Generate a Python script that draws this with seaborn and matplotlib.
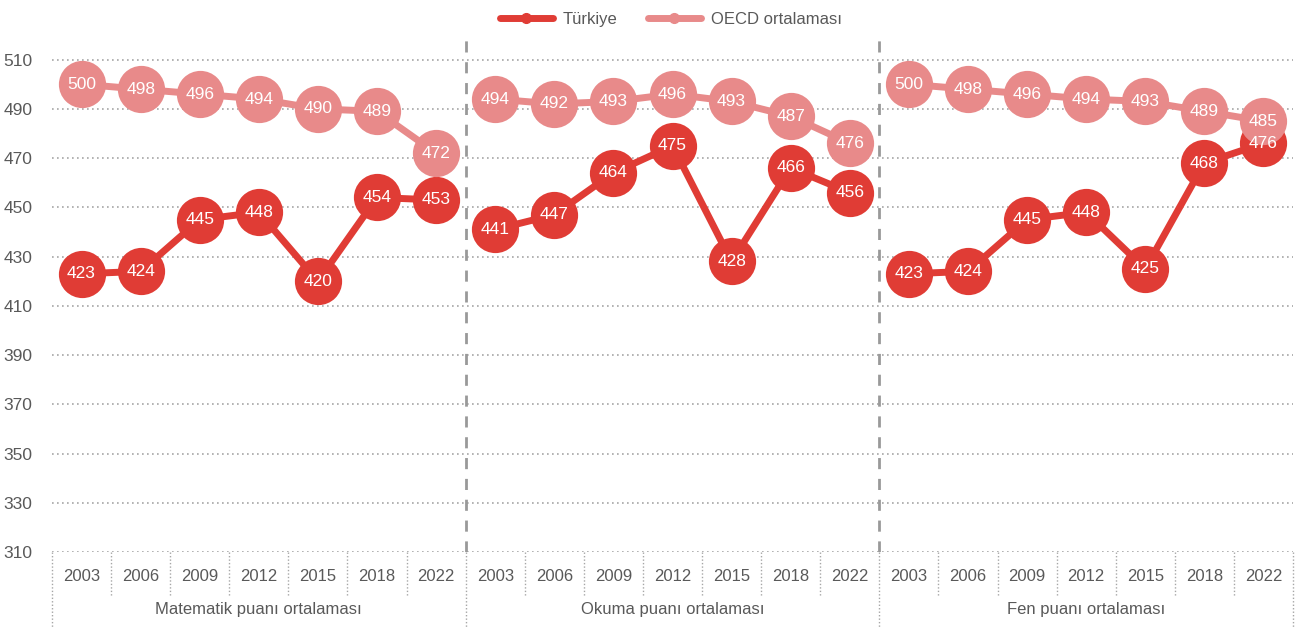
import matplotlib
matplotlib.use("Agg")
import matplotlib.pyplot as plt
from matplotlib.lines import Line2D
import pandas as pd
import seaborn as sns

subjects = ["Matematik puanı ortalaması", "Okuma puanı ortalaması", "Fen puanı ortalaması"]
years = ["2003", "2006", "2009", "2012", "2015", "2018", "2022"]
series_names = ["Türkiye", "OECD ortalaması"]

turkiye_math = [423, 424, 445, 448, 420, 454, 453]
oecd_math = [500, 498, 496, 494, 490, 489, 472]
turkiye_read = [441, 447, 464, 475, 428, 466, 456]
oecd_read = [494, 492, 493, 496, 493, 487, 476]
turkiye_sci = [423, 424, 445, 448, 425, 468, 476]
oecd_sci = [500, 498, 496, 494, 493, 489, 485]

y_ticks = [310, 330, 350, 370, 390, 410, 430, 450, 470, 490, 510]

colors = {"Türkiye": "#E03C35", "OECD ortalaması": "#E88A8A"}
text_gray = "#595959"
grid_gray = "#A6A6A6"

rows = []
for g, (subj, tr, oe) in enumerate(zip(subjects, [turkiye_math, turkiye_read, turkiye_sci], [oecd_math, oecd_read, oecd_sci])):
    for i, yr in enumerate(years):
        pos = g * len(years) + i
        rows.append({"subject": subj, "year": yr, "pos": pos, "series": "Türkiye", "score": tr[i]})
        rows.append({"subject": subj, "year": yr, "pos": pos, "series": "OECD ortalaması", "score": oe[i]})
df = pd.DataFrame(rows)

sns.set_style("white")
plt.rcParams["font.family"] = ["Liberation Sans", "DejaVu Sans"]

fig = plt.figure(figsize=(12.95, 6.27), dpi=100)
ax = fig.add_axes([52 / 1295, 75 / 627, 1241 / 1295, 517 / 627])

n = len(years)
for g, subj in enumerate(subjects):
    part = df[df["subject"] == subj]
    for k, name in enumerate(series_names):
        s = part[part["series"] == name]
        sns.lineplot(data=s, x="pos", y="score", color=colors[name], linewidth=5,
                     marker="o", markersize=34, markeredgewidth=0, legend=False,
                     ax=ax, zorder=3 + k)
        for _, r in s.iterrows():
            ax.text(r["pos"], r["score"], str(r["score"]), ha="center", va="center",
                    color="white", fontsize=12.5, zorder=10)

total = n * len(subjects)
ax.set_xlim(-0.5, total - 0.5)
ax.set_ylim(310, 520)
ax.set_yticks(y_ticks)
ax.set_yticklabels([str(t) for t in y_ticks], color=text_gray, fontsize=12.5)
ax.tick_params(axis="y", length=0, pad=14)
ax.set_xticks([])
ax.set_xlabel("")
ax.set_ylabel("")
for sp in ax.spines.values():
    sp.set_visible(False)
for t in y_ticks:
    ax.axhline(t, color=grid_gray, linewidth=1.2, linestyle=(0, (1, 2)), zorder=1)

# group separators
for g in range(1, len(subjects)):
    ax.axvline(g * n - 0.5, color="#999999", linewidth=2, linestyle=(0, (4, 3.5)), zorder=2)

# category axis below
xt = ax.get_xaxis_transform()
for p in range(total):
    ax.text(p, -0.047, years[p % n], ha="center", va="center", color=text_gray,
            fontsize=12, transform=xt)
    if (p + 1) % n != 0:
        ax.plot([p + 0.5, p + 0.5], [0, -0.085], transform=xt, color=grid_gray,
                linewidth=1, linestyle=(0, (1, 1.5)), clip_on=False)
for g in range(len(subjects) + 1):
    x = g * n - 0.5
    ax.plot([x, x], [0, -0.15], transform=xt, color=grid_gray, linewidth=1,
            linestyle=(0, (1, 1.5)), clip_on=False)
for g, subj in enumerate(subjects):
    ax.text(g * n + (n - 1) / 2, -0.112, subj, ha="center", va="center", color=text_gray,
            fontsize=12, transform=xt)

handles = [Line2D([0], [0], color=colors[nm], linewidth=5, marker="o", markersize=7,
                  solid_capstyle="round") for nm in series_names]
fig.legend(handles, series_names, loc="upper center", bbox_to_anchor=(0.518, 1.005), ncol=2,
           frameon=False, fontsize=12, labelcolor=text_gray, handlelength=3.2,
           handletextpad=0.6, columnspacing=1.8)

fig.savefig("out.png", dpi=100)
